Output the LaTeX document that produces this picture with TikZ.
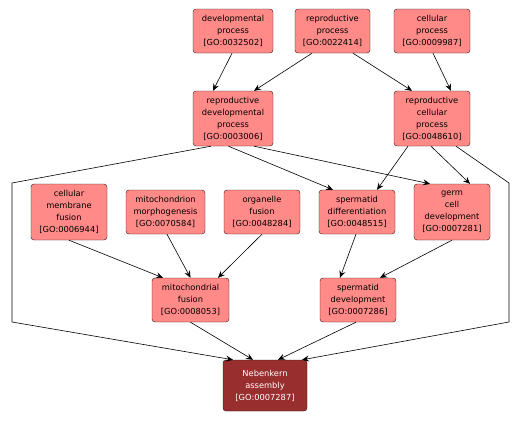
\documentclass[tikz,border=0pt]{standalone}
\usepackage{fontspec}
\setmainfont{DejaVu Sans}
\definecolor{goterm}{RGB}{255,138,136}
\definecolor{goself}{RGB}{152,46,46}
\definecolor{goline}{RGB}{40,20,20}
\usetikzlibrary{arrows.meta}

\begin{document}
\begin{tikzpicture}[
  x=1pt,y=-1pt,
  every node/.style={font=\fontsize{8.3}{12}\selectfont},
  gonode/.style={draw=goline,rounded corners=3pt,fill=goterm,align=center,
                 inner sep=0pt,minimum width=76pt,minimum height=44pt},
  selfnode/.style={gonode,fill=goself,text=white,minimum width=84pt,minimum height=51pt},
  isa/.style={-{Stealth[length=7pt,width=6pt,inset=2.5pt]},black,line width=0.6pt},
]
  \useasboundingbox (0,0) rectangle (531,421);

  % top level terms
  \node[gonode,minimum width=80pt] (devproc) at (233,31) {developmental\\process\\{[GO:0032502]}};
  \node[gonode,minimum width=75pt] (repproc) at (332.5,31) {reproductive\\process\\{[GO:0022414]}};
  \node[gonode] (cellproc) at (432,31) {cellular\\process\\{[GO:0009987]}};

  % second level
  \node[gonode,minimum width=80pt,minimum height=55pt] (repdev) at (233,118.5)
    {reproductive\\developmental\\process\\{[GO:0003006]}};
  \node[gonode,minimum height=55pt] (repcell) at (432,118.5)
    {reproductive\\cellular\\process\\{[GO:0048610]}};

  % third level
  \node[gonode,minimum height=56pt] (memfus) at (69,212) {cellular\\membrane\\fusion\\{[GO:0006944]}};
  \node[gonode,minimum width=79pt] (mitomorph) at (165.5,212) {mitochondrion\\morphogenesis\\{[GO:0070584]}};
  \node[gonode] (orgfus) at (262,212) {organelle\\fusion\\{[GO:0048284]}};
  \node[gonode] (spdiff) at (357,212) {spermatid\\differentiation\\{[GO:0048515]}};
  \node[gonode,minimum height=56pt] (germdev) at (452,212) {germ\\cell\\development\\{[GO:0007281]}};

  % fourth level
  \node[gonode,minimum width=77pt] (mitofus) at (190.5,300) {mitochondrial\\fusion\\{[GO:0008053]}};
  \node[gonode] (spdev) at (358,300) {spermatid\\development\\{[GO:0007286]}};

  % the term itself
  \node[selfnode] (neben) at (265,385.5) {Nebenkern\\assembly\\{[GO:0007287]}};

  % bends of the long edges
  \coordinate (lbendA) at (12,183);
  \coordinate (lbendB) at (12,322);
  \coordinate (rbendA) at (509,183);
  \coordinate (rbendB) at (509,322);

  % top -> second level
  \draw[isa] ([xshift=-1pt]devproc.south) -- ([xshift=-20pt]repdev.north);
  \draw[isa] ([xshift=-20.5pt]repproc.south) -- ([xshift=21pt]repdev.north);
  \draw[isa] ([xshift=20.5pt]repproc.south) -- ([xshift=-20pt]repcell.north);
  \draw[isa] ([xshift=1pt]cellproc.south) -- ([xshift=19pt]repcell.north);

  % second -> third level
  \draw[isa] ([xshift=-4.5pt]repdev.south) -- ([xshift=-24pt]spdiff.north);
  \draw[isa] ([xshift=21pt]repdev.south) -- ([xshift=-22pt]germdev.north);
  \draw[isa] ([xshift=-24pt]repcell.south) -- ([xshift=20pt]spdiff.north);
  \draw[isa] ([xshift=-1pt]repcell.south) -- ([xshift=18pt]germdev.north);

  % third -> fourth level
  \draw[isa] (memfus.south) -- ([xshift=-27.5pt]mitofus.north);
  \draw[isa] ([xshift=1.5pt]mitomorph.south) -- (mitofus.north);
  \draw[isa] (orgfus.south) -- ([xshift=27.5pt]mitofus.north);
  \draw[isa] ([xshift=-1pt]spdiff.south) -- ([xshift=-18pt]spdev.north);
  \draw[isa] (germdev.south) -- ([xshift=22pt]spdev.north);

  % into Nebenkern assembly
  \draw[isa] (mitofus.south) -- ([xshift=-12pt]neben.north);
  \draw[isa] ([xshift=-2pt]spdev.south) -- ([xshift=13pt]neben.north);
  \draw[isa] ([xshift=-22pt]repdev.south) -- (lbendA) -- (lbendB) -- ([xshift=-32pt]neben.north);
  \draw[isa] ([xshift=24pt]repcell.south) -- (rbendA) -- (rbendB) -- ([xshift=37pt]neben.north);
\end{tikzpicture}
\end{document}
